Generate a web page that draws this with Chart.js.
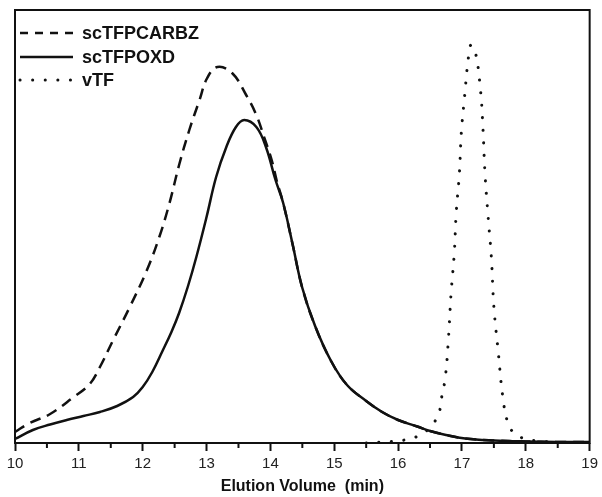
<!DOCTYPE html>
<html>
<head>
<meta charset="utf-8">
<script src="https://cdn.jsdelivr.net/npm/chart.js@4"></script>
<style>
  html, body { margin: 0; padding: 0; background: #fff; }
  #wrap { width: 602px; height: 497px; }
</style>
</head>
<body>
<div id="wrap"><canvas id="chart" width="602" height="497"></canvas></div>
<script>
// Elution traces (arbitrary detector units).
const seriesNames = ['scTFPCARBZ', 'scTFPOXD', 'vTF'];

// shared tail where the two scTFP traces overlap
const tailX = [14.2, 14.35, 14.5, 14.7, 14.95, 15.2, 15.5, 15.75, 16.0, 16.3, 16.5, 16.75, 17.05, 17.5, 18.0, 18.5, 19.0];
const tailY = [240, 198, 155, 117, 82, 58, 42, 31, 23, 16.5, 12, 8, 4.5, 2.5, 1.5, 1, 1];

const carbzX = [10.0, 10.23, 10.55, 10.9, 11.17, 11.33, 11.53, 11.79, 12.06, 12.26, 12.42, 12.57, 12.73, 12.89, 13.01, 13.17, 13.4, 13.62, 13.78, 13.9, 14.02, 14.1];
const carbzY = [11, 20, 29, 45, 59, 76, 102, 135, 172, 206, 240, 278, 313, 343, 365, 376, 370, 348, 328, 306, 283, 262];

const oxdX = [10.0, 10.28, 10.55, 10.81, 11.07, 11.33, 11.6, 11.85, 12.0, 12.15, 12.31, 12.45, 12.57, 12.71, 12.84, 13.0, 13.15, 13.31, 13.46, 13.59, 13.78, 13.93, 14.08];
const oxdY = [4, 13, 18.5, 23, 27, 31, 37, 46, 56, 71, 92, 111, 130, 157, 186, 226, 266, 296, 316, 323, 316, 296, 263];

const vtfX = [15.5, 15.75, 16.0, 16.16, 16.35, 16.5, 16.63, 16.68, 16.74, 16.79, 16.83, 16.88, 16.91, 16.96, 16.99, 17.04, 17.1, 17.14, 17.21, 17.29, 17.33, 17.36, 17.41, 17.46, 17.5, 17.57, 17.64, 17.72, 17.83, 18.0, 18.19, 18.5];
const vtfY = [0, 1, 2, 4, 8, 16, 28, 45, 66, 106, 150, 190, 230, 270, 310, 346, 385, 398, 391, 353, 313, 270, 226, 186, 136, 90, 46, 20, 9, 4, 2, 0.5];

const xMin = 10;
const xMax = 19;

const toPoints = (xs, ys) => xs.map((x, i) => ({ x, y: ys[i] }));

const carbzPts = toPoints(carbzX.concat(tailX), carbzY.concat(tailY));
const oxdPts = toPoints(oxdX.concat(tailX), oxdY.concat(tailY));
const vtfPts = toPoints(vtfX, vtfY);

// Frame, minor ticks and the line-sample legend drawn inside the plot.
const framePlugin = {
  id: 'frame',
  afterDatasetsDraw(chart) {
    const { ctx, chartArea: a, scales } = chart;
    ctx.save();
    ctx.strokeStyle = '#111';
    ctx.lineWidth = 2;
    ctx.strokeRect(a.left, a.top, a.right - a.left, a.bottom - a.top);

    for (let v = xMin + 0.5; v < xMax; v += 1) {
      const px = scales.x.getPixelForValue(v);
      ctx.beginPath();
      ctx.moveTo(px, a.bottom);
      ctx.lineTo(px, a.bottom + 5);
      ctx.stroke();
    }

    const rows = [33, 57, 80];
    chart.data.datasets.forEach((ds, i) => {
      const y = rows[i];
      ctx.beginPath();
      ctx.lineWidth = ds.borderWidth;
      ctx.lineCap = ds.borderCapStyle || 'butt';
      ctx.setLineDash(ds.legendDash || []);
      ctx.moveTo(20, y);
      ctx.lineTo(73, y);
      ctx.stroke();
      ctx.setLineDash([]);
      ctx.fillStyle = '#111';
      ctx.font = 'bold 18px "Liberation Sans", Arial, sans-serif';
      ctx.textBaseline = 'middle';
      ctx.fillText(ds.label, 82, y + 1);
    });
    ctx.restore();
  }
};

new Chart(document.getElementById('chart'), {
  type: 'line',
  data: {
    datasets: [
      {
        label: seriesNames[0],
        data: carbzPts,
        borderColor: '#111',
        borderWidth: 2.5,
        borderDash: [11, 7],
        legendDash: [8, 7],
        pointRadius: 0,
        tension: 0.4
      },
      {
        label: seriesNames[1],
        data: oxdPts,
        borderColor: '#111',
        borderWidth: 2.5,
        pointRadius: 0,
        tension: 0.4
      },
      {
        label: seriesNames[2],
        data: vtfPts,
        borderColor: '#111',
        borderWidth: 3,
        borderDash: [0.1, 12.5],
        legendDash: [0.1, 12.5],
        borderCapStyle: 'round',
        pointRadius: 0,
        tension: 0.4
      }
    ]
  },
  options: {
    responsive: false,
    animation: false,
    layout: { padding: { left: 15, right: 10, top: 10, bottom: 0 } },
    plugins: {
      legend: { display: false },
      tooltip: { enabled: false }
    },
    scales: {
      x: {
        type: 'linear',
        min: xMin,
        max: xMax,
        afterFit: (scale) => { scale.height = 54; },
        ticks: {
          stepSize: 1,
          padding: 4,
          color: '#222',
          font: { family: '"Liberation Sans", Arial, sans-serif', size: 15 }
        },
        grid: {
          drawOnChartArea: false,
          tickLength: 8,
          tickWidth: 2,
          tickColor: '#111'
        },
        border: { display: false },
        title: {
          display: true,
          text: 'Elution Volume  (min)',
          color: '#111',
          padding: { top: 0, bottom: 1 },
          font: { family: '"Liberation Sans", Arial, sans-serif', size: 16, weight: 'bold' }
        }
      },
      y: {
        display: false,
        min: 0,
        max: 433
      }
    }
  },
  plugins: [framePlugin]
});
</script>
</body>
</html>
